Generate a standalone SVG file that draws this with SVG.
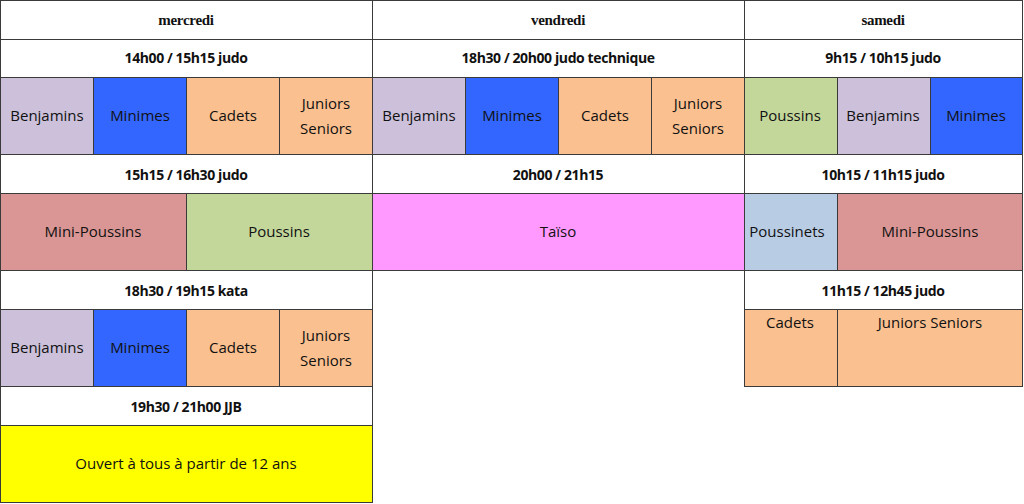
<svg xmlns="http://www.w3.org/2000/svg" width="1024" height="504" viewBox="0 0 1024 504">
<style>
.c{stroke:#3a3a3a;stroke-width:1}
.w{fill:#ffffff}
.lav{fill:#CCC0DA}.blu{fill:#3366FF}.ora{fill:#FAC090}.grn{fill:#C4D79B}
.pnk{fill:#DA9694}.mag{fill:#FF99FF}.lbl{fill:#B8CCE4}.yel{fill:#FFFF00}
.d{font-family:"Liberation Serif",serif;font-weight:bold;font-size:15px;fill:#111;text-anchor:middle;letter-spacing:-0.3px}
.t{font-family:"Open Sans","Noto Sans",sans-serif;font-weight:bold;font-size:14px;fill:#111;text-anchor:middle;letter-spacing:-0.4px}
.g{font-family:"Open Sans","Noto Sans",sans-serif;font-size:15px;fill:#111;text-anchor:middle}
</style>
<rect x="0" y="0" width="1024" height="504" fill="#ffffff"/>
<g id="mercredi">
<rect class="c w" x="0.5" y="0.5" width="372" height="39"/>
<text class="d" x="186" y="25">mercredi</text>
<rect class="c w" x="0.5" y="39.5" width="372" height="38"/>
<text class="t" x="186" y="63">14h00 / 15h15 judo</text>
<rect class="c lav" x="0.5" y="77.5" width="93" height="77"/>
<rect class="c blu" x="93.5" y="77.5" width="93" height="77"/>
<rect class="c ora" x="186.5" y="77.5" width="93" height="77"/>
<rect class="c ora" x="279.5" y="77.5" width="93" height="77"/>
<text class="g" x="47" y="121">Benjamins</text>
<text class="g" x="140" y="121">Minimes</text>
<text class="g" x="233" y="121">Cadets</text>
<text class="g" x="326" y="109">Juniors</text>
<text class="g" x="326" y="134">Seniors</text>
<rect class="c w" x="0.5" y="154.5" width="372" height="39"/>
<text class="t" x="186" y="180">15h15 / 16h30 judo</text>
<rect class="c pnk" x="0.5" y="193.5" width="186" height="77"/>
<rect class="c grn" x="186.5" y="193.5" width="186" height="77"/>
<text class="g" x="93" y="237">Mini-Poussins</text>
<text class="g" x="279" y="237">Poussins</text>
<rect class="c w" x="0.5" y="270.5" width="372" height="39"/>
<text class="t" x="186" y="296">18h30 / 19h15 kata</text>
<rect class="c lav" x="0.5" y="309.5" width="93" height="77"/>
<rect class="c blu" x="93.5" y="309.5" width="93" height="77"/>
<rect class="c ora" x="186.5" y="309.5" width="93" height="77"/>
<rect class="c ora" x="279.5" y="309.5" width="93" height="77"/>
<text class="g" x="47" y="353">Benjamins</text>
<text class="g" x="140" y="353">Minimes</text>
<text class="g" x="233" y="353">Cadets</text>
<text class="g" x="326" y="341">Juniors</text>
<text class="g" x="326" y="366">Seniors</text>
<rect class="c w" x="0.5" y="386.5" width="372" height="39"/>
<text class="t" x="186" y="412">19h30 / 21h00 JJB</text>
<rect class="c yel" x="0.5" y="425.5" width="372" height="77"/>
<text class="g" x="186" y="469">Ouvert à tous à partir de 12 ans</text>
</g>
<g id="vendredi">
<rect class="c w" x="372.5" y="0.5" width="372" height="39"/>
<text class="d" x="558" y="25">vendredi</text>
<rect class="c w" x="372.5" y="39.5" width="372" height="38"/>
<text class="t" x="558" y="63">18h30 / 20h00 judo technique</text>
<rect class="c lav" x="372.5" y="77.5" width="93" height="77"/>
<rect class="c blu" x="465.5" y="77.5" width="93" height="77"/>
<rect class="c ora" x="558.5" y="77.5" width="93" height="77"/>
<rect class="c ora" x="651.5" y="77.5" width="93" height="77"/>
<text class="g" x="419" y="121">Benjamins</text>
<text class="g" x="512" y="121">Minimes</text>
<text class="g" x="605" y="121">Cadets</text>
<text class="g" x="698" y="109">Juniors</text>
<text class="g" x="698" y="134">Seniors</text>
<rect class="c w" x="372.5" y="154.5" width="372" height="39"/>
<text class="t" x="558" y="180">20h00 / 21h15</text>
<rect class="c mag" x="372.5" y="193.5" width="372" height="77"/>
<text class="g" x="558" y="237">Taïso</text>
</g>
<g id="samedi">
<rect class="c w" x="744.5" y="0.5" width="278" height="39"/>
<text class="d" x="883" y="25">samedi</text>
<rect class="c w" x="744.5" y="39.5" width="278" height="38"/>
<text class="t" x="883" y="63">9h15 / 10h15 judo</text>
<rect class="c grn" x="744.5" y="77.5" width="93" height="77"/>
<rect class="c lav" x="837.5" y="77.5" width="93" height="77"/>
<rect class="c blu" x="930.5" y="77.5" width="92" height="77"/>
<text class="g" x="790" y="121">Poussins</text>
<text class="g" x="883" y="121">Benjamins</text>
<text class="g" x="976" y="121">Minimes</text>
<rect class="c w" x="744.5" y="154.5" width="278" height="39"/>
<text class="t" x="883" y="180">10h15 / 11h15 judo</text>
<rect class="c lbl" x="744.5" y="193.5" width="93" height="77"/>
<rect class="c pnk" x="837.5" y="193.5" width="185" height="77"/>
<text class="g" x="787" y="237">Poussinets</text>
<text class="g" x="930" y="237">Mini-Poussins</text>
<rect class="c w" x="744.5" y="270.5" width="278" height="39"/>
<text class="t" x="883" y="296">11h15 / 12h45 judo</text>
<rect class="c ora" x="744.5" y="309.5" width="93" height="77"/>
<rect class="c ora" x="837.5" y="309.5" width="185" height="77"/>
<text class="g" x="790" y="328">Cadets</text>
<text class="g" x="930" y="328">Juniors Seniors</text>
</g>
<g id="connectors"></g>
</svg>
